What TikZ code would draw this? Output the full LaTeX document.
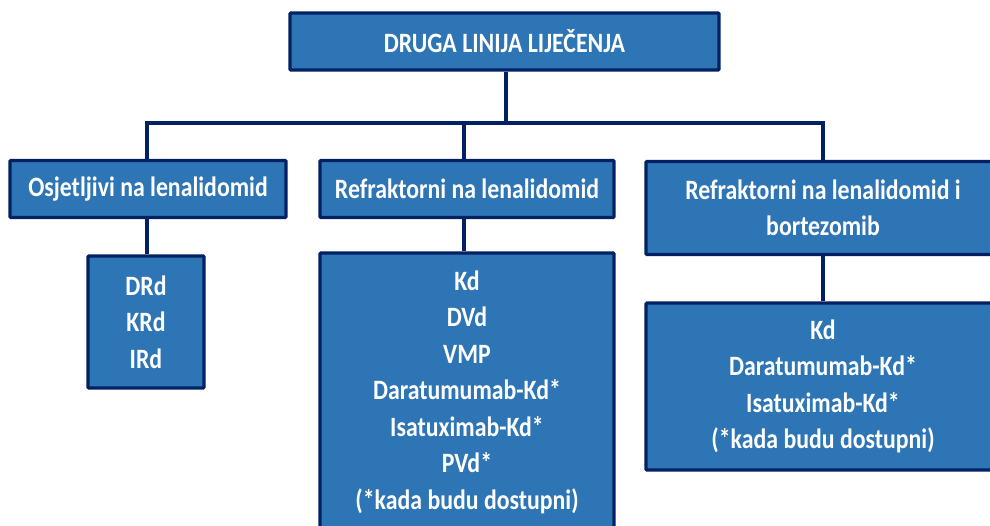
\documentclass[tikz,border=0pt]{standalone}
\usepackage{fontspec}
\setmainfont[FakeStretch=0.85]{Carlito}
\definecolor{boxfill}{HTML}{2E75B6}
\definecolor{boxline}{HTML}{022163}
\begin{document}
\begin{tikzpicture}[x=1pt,y=-1pt,
  box/.style={draw=boxline, line width=3.2pt, fill=boxfill, text=white,
    font=\bfseries\fontsize{28}{36.5}\selectfont, align=center, inner sep=0pt, rounded corners=1pt},
  conn/.style={draw=boxline, line width=3.6pt}]
\clip (0,0) rectangle (990,525);
\fill[white] (0,0) rectangle (990,525);
% boxes (center, size)
\node[box, minimum width=429pt, minimum height=57pt] (top) at (504.5,41.5) {DRUGA LINIJA LIJEČENJA};
\node[box, minimum width=276pt, minimum height=57pt] (b1) at (148,189) {Osjetljivi na lenalidomid};
\node[box, minimum width=294pt, minimum height=57pt] (b2) at (467,189) {Refraktorni na lenalidomid};
\node[box, minimum width=354pt, minimum height=93pt] (b3) at (823,208) {Refraktorni na lenalidomid i\\bortezomib};
\node[box, minimum width=116pt, minimum height=132pt] (c1) at (146,322) {DRd\\KRd\\IRd};
\node[box, minimum width=294pt, minimum height=278pt] (c2) at (467,392) {Kd\\DVd\\VMP\\Daratumumab-Kd*\\Isatuximab-Kd*\\PVd*\\(*kada budu dostupni)};
\node[box, minimum width=354pt, minimum height=167pt] (c3) at (823,386.5) {Kd\\Daratumumab-Kd*\\Isatuximab-Kd*\\(*kada budu dostupni)};
% connectors
\coordinate (bus) at (506,123);
\coordinate (busL) at (147,123);
\coordinate (busR) at (823,123);
\coordinate (busM) at (464,123);
\draw[conn] (top.south -| bus) -- (bus);
\draw[conn, line cap=rect] (busL) -- (busR);
\draw[conn] (busL) -- (busL |- b1.north);
\draw[conn] (busM) -- (busM |- b2.north);
\draw[conn] (busR) -- (b3.north);
\draw[conn] (b1.south -| busL) -- (c1.north -| busL);
\draw[conn] (b2.south -| busM) -- (c2.north -| busM);
\draw[conn] (b3.south) -- (c3.north);
\end{tikzpicture}
\end{document}
